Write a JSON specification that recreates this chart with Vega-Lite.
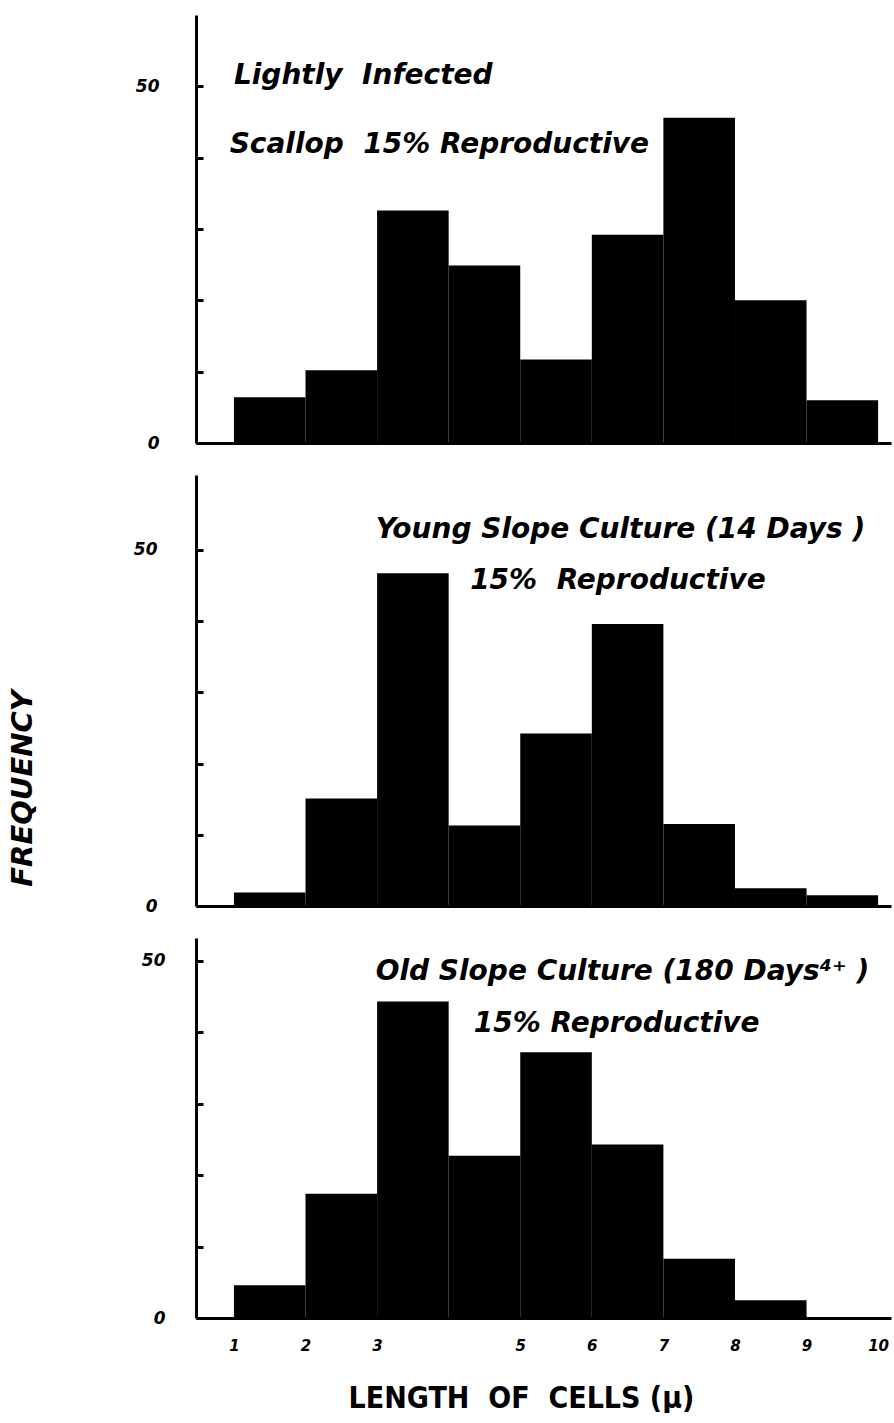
{
  "$schema": "https://vega.github.io/schema/vega-lite/v6.json",
  "background": "white",
  "padding": {"left": 8, "top": 15, "right": 4, "bottom": 0},
  "config": {
    "view": {"stroke": null},
    "font": "DejaVu Sans",
    "axis": {"domainColor": "black", "tickColor": "black", "labelColor": "black", "titleColor": "black", "grid": false}
  },
  "datasets": {
    "bars": [
      {"panel": "A", "start": 1, "end": 2, "freq": 6.4},
      {"panel": "A", "start": 2, "end": 3, "freq": 10.2},
      {"panel": "A", "start": 3, "end": 4, "freq": 32.6},
      {"panel": "A", "start": 4, "end": 5, "freq": 24.9},
      {"panel": "A", "start": 5, "end": 6, "freq": 11.7},
      {"panel": "A", "start": 6, "end": 7, "freq": 29.2},
      {"panel": "A", "start": 7, "end": 8, "freq": 45.6},
      {"panel": "A", "start": 8, "end": 9, "freq": 20.0},
      {"panel": "A", "start": 9, "end": 10, "freq": 6.0},
      {"panel": "B", "start": 1, "end": 2, "freq": 1.9},
      {"panel": "B", "start": 2, "end": 3, "freq": 15.1},
      {"panel": "B", "start": 3, "end": 4, "freq": 46.7},
      {"panel": "B", "start": 4, "end": 5, "freq": 11.3},
      {"panel": "B", "start": 5, "end": 6, "freq": 24.2},
      {"panel": "B", "start": 6, "end": 7, "freq": 39.6},
      {"panel": "B", "start": 7, "end": 8, "freq": 11.5},
      {"panel": "B", "start": 8, "end": 9, "freq": 2.5},
      {"panel": "B", "start": 9, "end": 10, "freq": 1.5},
      {"panel": "C", "start": 1, "end": 2, "freq": 4.6},
      {"panel": "C", "start": 2, "end": 3, "freq": 17.4},
      {"panel": "C", "start": 3, "end": 4, "freq": 44.3},
      {"panel": "C", "start": 4, "end": 5, "freq": 22.7},
      {"panel": "C", "start": 5, "end": 6, "freq": 37.2},
      {"panel": "C", "start": 6, "end": 7, "freq": 24.3},
      {"panel": "C", "start": 7, "end": 8, "freq": 8.3},
      {"panel": "C", "start": 8, "end": 9, "freq": 2.5}
    ],
    "notes": [
      {"panel": "A", "x": 1.0, "y": 51.4, "label": "Lightly\u00a0\u00a0Infected"},
      {"panel": "A", "x": 0.94, "y": 41.8, "label": "Scallop\u00a0\u00a015% Reproductive"},
      {"panel": "B", "x": 2.98, "y": 52.8, "label": "Young Slope Culture (14 Days )"},
      {"panel": "B", "x": 4.3, "y": 45.6, "label": "15%\u00a0\u00a0Reproductive"},
      {"panel": "C", "x": 2.98, "y": 48.5, "label": "Old Slope Culture (180 Days⁴⁺ )"},
      {"panel": "C", "x": 4.35, "y": 41.1, "label": "15% Reproductive"}
    ]
  },
  "spacing": 24,
  "vconcat": [
    {
      "width": 695,
      "height": 428,
      "layer": [
        {
          "data": {"name": "bars"},
          "transform": [{"filter": "datum.panel == 'A'"}],
          "mark": {"type": "rect", "color": "black"},
          "encoding": {
            "x": {"field": "start", "type": "quantitative", "scale": {"domain": [0.47, 10.18], "nice": false, "zero": false},
              "axis": {"domainWidth": 3, "ticks": false, "labels": false, "title": null}},
            "x2": {"field": "end"},
            "y": {"field": "freq", "type": "quantitative", "scale": {"domain": [0, 60], "nice": false},
              "axis": {"values": [0, 10, 20, 30, 40, 50], "labelExpr": "datum.value == 0 || datum.value == 50 ? datum.label : ''",
                "tickSize": -7, "tickWidth": 3, "domainWidth": 3, "labelFont": "DejaVu Sans", "labelFontSize": 17, "labelFontStyle": "italic", "labelFontWeight": "bold", "labelPadding": 44, "title": null}},
            "y2": {"datum": 0}
          }
        },
        {
          "data": {"name": "notes"},
          "transform": [{"filter": "datum.panel == 'A'"}],
          "mark": {"type": "text", "align": "left", "baseline": "middle", "font": "DejaVu Sans", "fontSize": 28, "fontStyle": "italic", "fontWeight": "bold", "color": "black"},
          "encoding": {
            "x": {"field": "x", "type": "quantitative"},
            "y": {"field": "y", "type": "quantitative"},
            "text": {"field": "label"}
          }
        }
      ]
    },
    {
      "width": 695,
      "height": 431,
      "layer": [
        {
          "data": {"name": "bars"},
          "transform": [{"filter": "datum.panel == 'B'"}],
          "mark": {"type": "rect", "color": "black"},
          "encoding": {
            "x": {"field": "start", "type": "quantitative", "scale": {"domain": [0.47, 10.18], "nice": false, "zero": false},
              "axis": {"domainWidth": 3, "ticks": false, "labels": false, "title": null}},
            "x2": {"field": "end"},
            "y": {"field": "freq", "type": "quantitative", "scale": {"domain": [0, 60.5], "nice": false},
              "axis": {"values": [0, 10, 20, 30, 40, 50], "labelExpr": "datum.value == 0 || datum.value == 50 ? datum.label : ''",
                "tickSize": -7, "tickWidth": 3, "domainWidth": 3, "labelFont": "DejaVu Sans", "labelFontSize": 17, "labelFontStyle": "italic", "labelFontWeight": "bold", "labelPadding": 46,
                "title": "FREQUENCY", "titleFont": "DejaVu Sans", "titleFontSize": 29, "titleFontStyle": "italic", "titleFontWeight": "bold", "titleAngle": 270, "titleX": -174, "titleY": 313, "titleAlign": "center", "titleBaseline": "middle"}},
            "y2": {"datum": 0}
          }
        },
        {
          "data": {"name": "notes"},
          "transform": [{"filter": "datum.panel == 'B'"}],
          "mark": {"type": "text", "align": "left", "baseline": "middle", "font": "DejaVu Sans", "fontSize": 28, "fontStyle": "italic", "fontWeight": "bold", "color": "black"},
          "encoding": {
            "x": {"field": "x", "type": "quantitative"},
            "y": {"field": "y", "type": "quantitative"},
            "text": {"field": "label"}
          }
        }
      ]
    },
    {
      "width": 695,
      "height": 380,
      "layer": [
        {
          "data": {"name": "bars"},
          "transform": [{"filter": "datum.panel == 'C'"}],
          "mark": {"type": "rect", "color": "black"},
          "encoding": {
            "x": {"field": "start", "type": "quantitative", "scale": {"domain": [0.47, 10.18], "nice": false, "zero": false},
              "axis": {"values": [1, 2, 3, 5, 6, 7, 8, 9, 10], "format": "d", "domainWidth": 3, "ticks": false, "labelPadding": 20,
                "labelFont": "DejaVu Sans", "labelFontSize": 15, "labelFontStyle": "italic", "labelFontWeight": "bold",
                "title": "LENGTH\u00a0\u00a0OF\u00a0\u00a0CELLS (μ)", "titleFont": "DejaVu Sans Condensed", "titleFontSize": 30, "titleFontWeight": "bold",
                "titleX": 325, "titleY": 80, "titleAlign": "center", "titleBaseline": "middle"}},
            "x2": {"field": "end"},
            "y": {"field": "freq", "type": "quantitative", "scale": {"domain": [0, 53.2], "nice": false},
              "axis": {"values": [0, 10, 20, 30, 40, 50], "labelExpr": "datum.value == 0 || datum.value == 50 ? datum.label : ''",
                "tickSize": -7, "tickWidth": 3, "domainWidth": 3, "labelFont": "DejaVu Sans", "labelFontSize": 17, "labelFontStyle": "italic", "labelFontWeight": "bold", "labelPadding": 38, "title": null}},
            "y2": {"datum": 0}
          }
        },
        {
          "data": {"name": "notes"},
          "transform": [{"filter": "datum.panel == 'C'"}],
          "mark": {"type": "text", "align": "left", "baseline": "middle", "font": "DejaVu Sans", "fontSize": 28, "fontStyle": "italic", "fontWeight": "bold", "color": "black"},
          "encoding": {
            "x": {"field": "x", "type": "quantitative"},
            "y": {"field": "y", "type": "quantitative"},
            "text": {"field": "label"}
          }
        }
      ]
    }
  ]
}
